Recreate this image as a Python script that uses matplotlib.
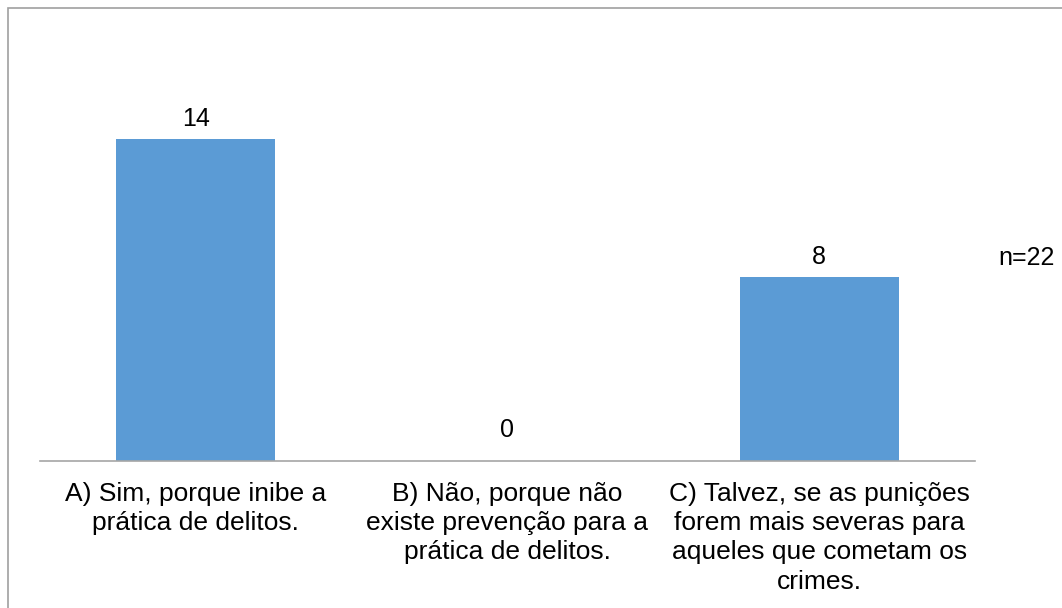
import matplotlib.pyplot as plt
from matplotlib.patches import Rectangle

plt.rcParams['font.family'] = ['Liberation Sans', 'DejaVu Sans']

labels = ["A) Sim, porque inibe a\nprática de delitos.",
          "B) Não, porque não\nexiste prevenção para a\nprática de delitos.",
          "C) Talvez, se as punições\nforem mais severas para\naqueles que cometam os\ncrimes."]
values = [14, 0, 8]
n_total = "n=22"

W, H = 1062, 608
fig = plt.figure(figsize=(W / 100, H / 100), dpi=100)
ax = fig.add_axes([40 / W, 1 - 461 / H, 935 / W, 368 / H])

x = range(len(values))
ax.bar(x, values, width=0.51, color="#5B9BD5")
for i, v in zip(x, values):
    # zero bar gets its label a bit higher, as in the original
    off = 14 if v == 0 else 6
    ax.annotate(str(v), (i, v), xytext=(0, off), textcoords="offset points",
                ha="center", va="bottom", fontsize=18)

ax.set_xlim(-0.5, 2.5)
ax.set_ylim(0, 16)
ax.set_yticks([])
ax.set_xticks(list(x))
ax.set_xticklabels(labels, fontsize=19, linespacing=1.28, va="top")
ax.tick_params(axis="x", length=0, pad=15)
for s in ["top", "right", "left"]:
    ax.spines[s].set_visible(False)
ax.spines["bottom"].set_color("#A6A6A6")
ax.spines["bottom"].set_linewidth(1.2)

fig.text(998 / W, 1 - 258 / H, n_total, fontsize=18, va="center", ha="left")

# outer frame (right and bottom run off the picture)
fig.patches.append(Rectangle((8 / W, -0.1), 1.2, 1.1 - 8 / H,
                             transform=fig.transFigure, fill=False,
                             edgecolor="#A0A0A0", linewidth=1.2))

fig.savefig("out.png", dpi=100)
